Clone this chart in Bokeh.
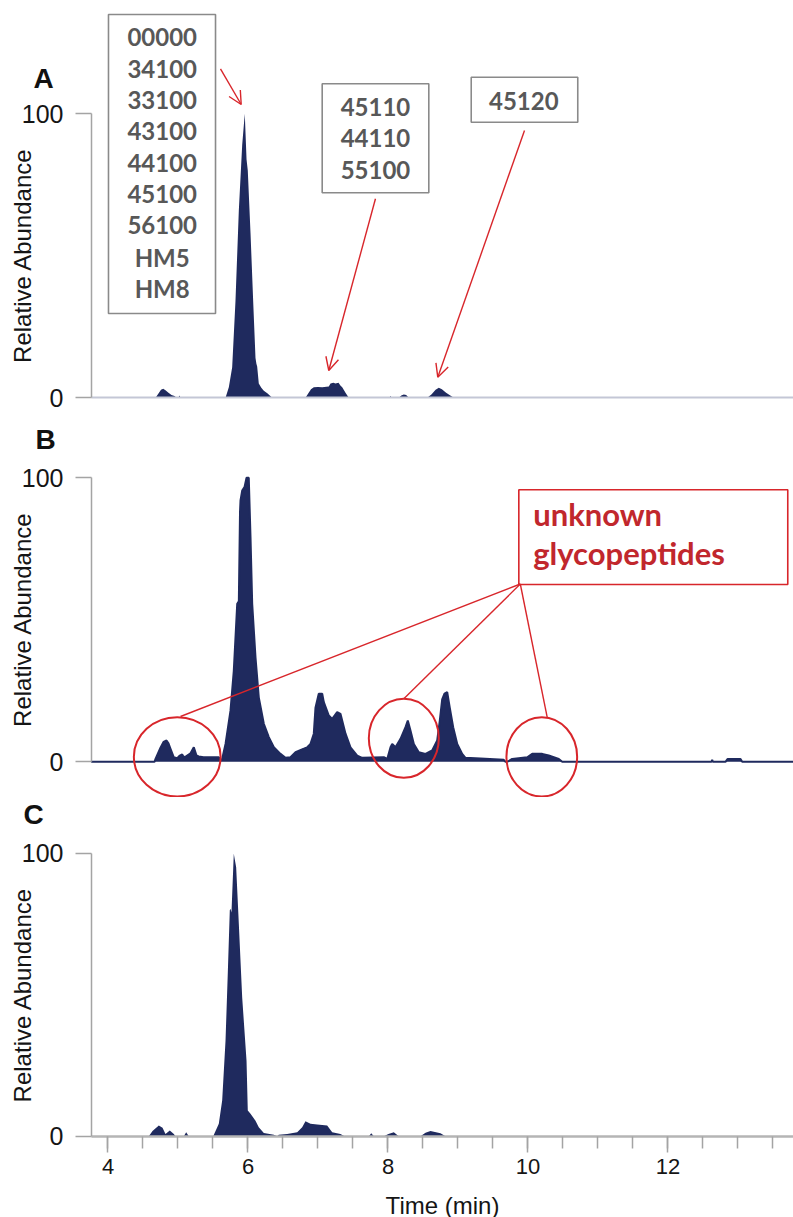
from bokeh.plotting import figure
from bokeh.layouts import column
from bokeh.models import (Range1d, FixedTicker, SingleIntervalTicker, Label,
                          BoxAnnotation, Arrow, OpenHead)
from bokeh.embed import file_html
from bokeh.resources import INLINE
from bokeh.core.properties import value

# ---------------- data ----------------
time_a = [3.76, 4.679, 4.721, 4.757, 4.789, 4.821, 4.864, 4.907, 4.95, 4.979, 5.007, 5.021, 5.036,
          5.679, 5.726, 5.774, 5.821, 5.869, 5.917, 5.954, 5.979, 5.997, 6.036, 6.074, 6.107, 6.12,
          6.131, 6.154, 6.19, 6.226, 6.28, 6.346,
          6.821, 6.86, 6.9, 6.94, 7.0, 7.06, 7.12, 7.154, 7.179, 7.22, 7.25, 7.293, 7.32, 7.346, 7.393, 7.44,
          8.02, 8.036, 8.05, 8.154, 8.19, 8.226, 8.26, 8.297,
          8.56, 8.62, 8.68, 8.726, 8.77, 8.83, 8.89, 8.94, 13.8]
abund_a = [0, 0, 1.5, 2.8, 3.2, 2.7, 1.8, 1.0, 0.6, 0, 0, 0.8, 0,
           0, 3.7, 10.8, 34, 66, 89, 100, 84, 80, 58, 34, 14, 12,
           11, 5, 3.5, 2.5, 1.5, 0,
           0, 1.5, 3.0, 3.7, 3.8, 3.7, 3.9, 4.0, 5.0, 5.3, 5.0, 5.3, 4.3, 3.7, 1.8, 0,
           0, 0.6, 0, 0, 0.8, 1.2, 1.0, 0,
           0, 1.2, 2.8, 3.5, 3.0, 1.8, 0.8, 0, 0]

time_b = [3.76, 4.664, 4.679, 4.75, 4.793, 4.836, 4.864, 4.893, 4.94, 4.989, 5.026, 5.06, 5.083,
          5.121, 5.179, 5.226, 5.264, 5.297, 5.364, 5.583, 5.607, 5.631, 5.679, 5.75, 5.797, 5.846,
          5.869, 5.886, 5.893, 5.917, 5.95, 5.979, 6.011, 6.036, 6.06, 6.107, 6.154, 6.226, 6.297,
          6.369, 6.464, 6.536, 6.607, 6.679, 6.797, 6.846, 6.893, 6.94, 6.964, 7.011, 7.06, 7.083,
          7.154, 7.203, 7.274, 7.321, 7.393, 7.464, 7.56, 7.631, 7.94, 7.989, 8.036, 8.06, 8.107,
          8.179, 8.25, 8.283, 8.321, 8.369, 8.44, 8.536, 8.631, 8.703, 8.74, 8.774, 8.807, 8.846,
          8.883, 8.931, 8.989, 9.06, 9.107, 9.321, 9.654, 9.679, 9.721, 9.774, 9.989, 10.06, 10.203,
          10.297, 10.44, 10.489, 12.621, 12.631, 12.643, 12.821, 12.85, 13.036, 13.06, 13.8]
abund_b = [0, 0, 1.0, 5.0, 7.0, 7.5, 6.5, 4.6, 1.6, 1.3, 2.2, 2.6, 1.6,
           2.0, 3.0, 5.1, 2.2, 1.9, 1.6, 1.6, 0.5, 1.0, 6.3, 18, 32, 55.6,
           56.5, 88, 92, 95.5, 96.7, 100, 100, 79, 55.6, 36.8, 22.7, 13.4, 8.7,
           5.1, 2.8, 1.4, 1.6, 3.4, 4.6, 5.1, 6.3, 9.9, 19, 24, 24, 21,
           16.3, 15.1, 17.5, 16.9, 9.9, 5.1, 2.2, 1.4, 1.6, 1.0, 5.1, 6.3, 5.1,
           8.1, 12.2, 14.5, 11, 6.3, 3.4, 2.8, 4.0, 7.5, 14.5, 22, 24, 24.5,
           19, 12.2, 6.3, 2.8, 1.4, 1.2, 0.7, 0, 0.2, 1.0, 1.6, 2.8, 2.8,
           2.2, 1.0, 0, 0, 0.7, 0, 0, 1.0, 1.0, 0, 0]

time_c = [3.76, 4.583, 4.636, 4.726, 4.779, 4.821, 4.883, 4.94, 4.964, 5.083, 5.117, 5.154,
          5.503, 5.583, 5.631, 5.679, 5.711, 5.74, 5.75, 5.764, 5.797, 5.831, 5.869, 5.917, 5.979,
          5.997, 6.036, 6.107, 6.154, 6.226, 6.369, 6.417, 6.44, 6.56, 6.703, 6.774, 6.821, 6.893,
          6.989, 7.131, 7.203, 7.321, 7.379, 7.726, 7.761, 7.797, 7.94, 8.007, 8.083, 8.154,
          8.464, 8.536, 8.607, 8.75, 8.821, 13.8]
abund_c = [0, 0, 1.8, 3.8, 3.0, 0.8, 2.0, 0.8, 0, 0, 1.4, 0,
           0, 4.4, 12.6, 33.8, 57.4, 79.8, 80.4, 79, 99.8, 95, 75, 49, 26.7,
           9.1, 7.9, 5.5, 3.2, 1.1, 0.5, 0, 0.5, 0.8, 1.4, 3.2, 5.3, 4.4,
           4.1, 3.8, 1.4, 0.8, 0, 0, 1.0, 0, 0, 0.8, 1.4, 0,
           0, 1.2, 1.8, 1.0, 0, 0]

y_ticks = [0, 100]
box1_labels = ["00000", "34100", "33100", "43100", "44100", "45100", "56100", "HM5", "HM8"]
box2_labels = ["45110", "44110", "55100"]
box3_labels = ["45120"]
unknown_labels = ["unknown", "glycopeptides"]

# ---------------- styling ----------------
NAVY = "#1f2a5e"
RED = "#d8262b"
DARKRED = "#c1272d"
GREY_AX = "#a4a4a4"
BOX_GREY = "#8a8a8a"
TXT_GREY = "#585858"
FONT = "Liberation Sans"
XL, XR = 2.4643, 13.7929      # full figure width in minutes
AX0 = 3.7643                  # where the axes start
W = 793


def make_panel(height, y0, y1, with_x=False):
    p = figure(width=W, height=height, x_range=Range1d(XL, XR), y_range=Range1d(y0, y1),
               output_backend="svg", toolbar_location=None,
               x_axis_location="below" if with_x else None,
               min_border_left=0, min_border_right=0, min_border_top=0,
               min_border_bottom=0)
    p.outline_line_color = None
    p.xgrid.visible = False
    p.ygrid.visible = False
    ya = p.yaxis[0]
    ya.fixed_location = AX0
    ya.ticker = FixedTicker(ticks=y_ticks)
    ya.bounds = (0, 100)
    ya.axis_line_color = GREY_AX
    ya.axis_line_width = 1.5
    ya.major_tick_line_color = GREY_AX
    ya.major_tick_line_width = 1.5
    ya.major_tick_out = 16
    ya.major_tick_in = 0
    ya.minor_tick_line_color = None
    ya.major_label_text_font = FONT
    ya.major_label_text_font_size = "25px"
    ya.major_label_text_color = "#151515"
    ya.major_label_standoff = 12
    ya.axis_label = "Relative Abundance"
    ya.axis_label_text_font = FONT
    ya.axis_label_text_font_size = "24px"
    ya.axis_label_text_font_style = "normal"
    ya.axis_label_text_color = "#151515"
    ya.axis_label_standoff = -17
    if with_x:
        xa = p.xaxis[0]
        xa.fixed_location = 0
        xa.bounds = (AX0, XR)
    return p


def panel_letter(p, x, y, letter):
    p.add_layout(Label(x=x, y=y, text=letter, text_font=FONT, text_font_style="bold",
                       text_font_size="28px", text_align="left", text_baseline="middle",
                       text_color="#111111"))


# ---------------- Panel A (page rows 0-416) ----------------
pa = make_panel(416, -6.585, 139.89, with_x=True)
xa = pa.xaxis[0]
xa.ticker = FixedTicker(ticks=[])
xa.axis_line_color = "#c4c7d6"
xa.axis_line_width = 2
xa.major_tick_line_color = None
xa.minor_tick_line_color = None
xa.major_label_text_font_size = "0px"
pa.varea(x=time_a, y1=0, y2=abund_a, fill_color=NAVY)

for l, r, b, t in [(4.007, 5.536, 29.68, 134.96), (7.06, 8.583, 72.18, 110.56),
                   (9.189, 10.711, 97.04, 112.89)]:
    pa.add_layout(BoxAnnotation(left=l, right=r, bottom=b, top=t, fill_alpha=0,
                                line_color=BOX_GREY, line_alpha=1, line_width=1.6))
txt_kw = dict(text_font=value("Lato"), text_font_style="bold", text_font_size="24px",
              text_color=TXT_GREY, text_align="center", text_baseline="middle")
pa.text(x=[4.774] * 9,
        y=[126.97, 115.85, 104.68, 93.87, 82.75, 71.83, 60.67, 49.51, 38.38],
        text=box1_labels, **txt_kw)
pa.text(x=[7.821] * 3, y=[102.32, 91.41, 80.28], text=box2_labels, **txt_kw)
pa.text(x=[9.94], y=[104.44], text=box3_labels, **txt_kw)

for xs, ys, xe, ye in [(5.607, 115.85, 5.903, 103.27),
                       (7.821, 70.07, 7.154, 9.61),
                       (9.95, 94.12, 8.711, 7.25)]:
    pa.add_layout(Arrow(end=OpenHead(size=13, line_color=RED, line_width=1.4),
                        x_start=xs, y_start=ys, x_end=xe, y_end=ye,
                        line_color=RED, line_width=1.4))
panel_letter(pa, 2.936, 112.6, "A")

# ---------------- Panel B (page rows 416-797) ----------------
pb = make_panel(381, -12.57, 121.58)
pb.varea(x=time_b, y1=0, y2=abund_b, fill_color=NAVY)
pb.line(x=time_b, y=abund_b, line_color=NAVY, line_width=2)

pb.add_layout(BoxAnnotation(left=9.869, right=13.711, bottom=62.43, top=95.77, fill_alpha=0,
                            line_color=RED, line_alpha=1, line_width=1.6))
pb.text(x=[10.074, 10.074], y=[87.08, 73.52], text=unknown_labels,
        text_font=value("Lato"), text_font_style="bold", text_font_size="31px",
        text_color=DARKRED, text_align="left", text_baseline="middle")
pb.segment(x0=[9.89, 9.89, 9.89], y0=[62.6, 62.6, 62.6],
           x1=[5.036, 8.226, 10.274], y1=[15.95, 22.18, 15.70],
           line_color=RED, line_width=1.4)
pb.ellipse(x=[4.989, 8.226, 10.197], y=[1.76, 8.27, 1.76],
           width=[1.239, 1.0, 1.01], height=[27.92, 27.8, 27.92],
           fill_color=None, line_color=RED, line_width=2)
panel_letter(pb, 2.964, 113.5, "B")

# ---------------- Panel C (page rows 797-1217) ----------------
pc = make_panel(420, -28.73, 119.68, with_x=True)
pc.varea(x=time_c, y1=0, y2=abund_c, fill_color=NAVY)
xa = pc.xaxis[0]
xa.ticker = SingleIntervalTicker(interval=2, num_minor_ticks=4)
xa.axis_line_color = "#b5b5b5"
xa.axis_line_width = 2.5
xa.major_tick_line_color = GREY_AX
xa.minor_tick_line_color = GREY_AX
xa.major_tick_line_width = 1.5
xa.minor_tick_line_width = 1.5
xa.major_tick_out = 16
xa.major_tick_in = 0
xa.minor_tick_out = 12
xa.minor_tick_in = 0
xa.major_label_text_font = FONT
xa.major_label_text_font_size = "22px"
xa.major_label_text_color = "#151515"
xa.major_label_standoff = 7
xa.axis_label = "Time (min)"
xa.axis_label_text_font = FONT
xa.axis_label_text_font_size = "24px"
xa.axis_label_text_font_style = "normal"
xa.axis_label_text_color = "#151515"
xa.axis_label_standoff = 14
panel_letter(pc, 2.793, 113.67, "C")

layout = column(pa, pb, pc, spacing=0)
open("out.html", "w").write(file_html(layout, INLINE))
